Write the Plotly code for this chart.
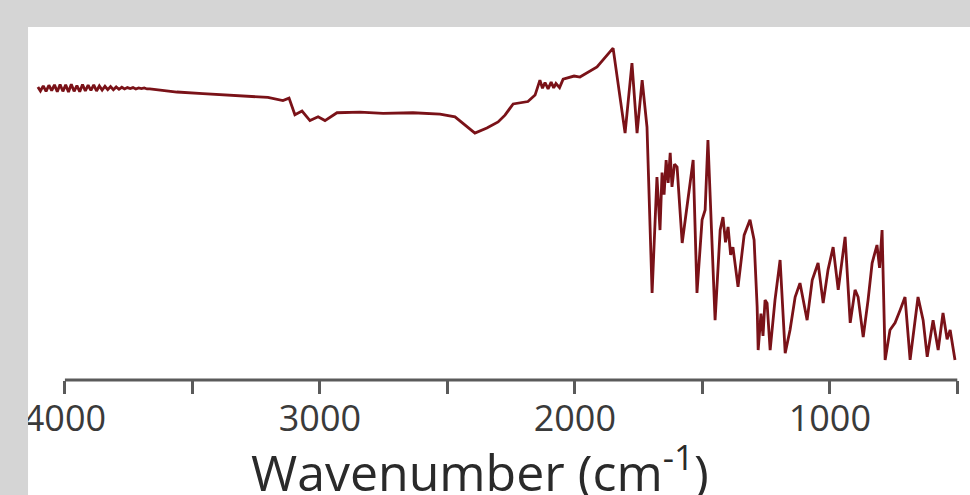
import plotly.graph_objects as go

# FTIR spectrum (wavenumber in cm-1, transmittance in arbitrary %)
wavenumber = [
    4106, 4096, 4085, 4074, 4063, 4052, 4041, 4030, 4019, 4008, 3997, 3986, 3975, 3964,
    3953, 3942, 3931, 3920, 3909, 3898, 3887, 3876, 3865, 3854, 3843, 3832, 3821, 3810,
    3799, 3788, 3777, 3766, 3755, 3744, 3733, 3722, 3711, 3700, 3689, 3678, 3667,
    3561, 3459, 3204, 3145, 3121, 3098, 3070, 3039, 3007, 2980, 2933, 2843, 2752, 2635,
    2529, 2470, 2392, 2345, 2301, 2274, 2242, 2184, 2156, 2137, 2127, 2117, 2105, 2093,
    2083, 2074, 2060, 2046, 2003, 1980, 1913, 1850, 1803, 1776, 1756, 1736, 1717, 1697,
    1678, 1672, 1666, 1658, 1650, 1642, 1634, 1626, 1619, 1609, 1599, 1579, 1556, 1536,
    1521, 1501, 1489, 1478, 1450, 1430, 1419, 1409, 1399, 1389, 1380, 1360, 1336, 1313,
    1297, 1285, 1281, 1270, 1262, 1254, 1246, 1234, 1215, 1195, 1175, 1156, 1136, 1117,
    1089, 1069, 1046, 1026, 1007, 987, 967, 940, 920, 901, 889, 869, 850, 834, 815, 805,
    795, 783, 764, 744, 724, 705, 685, 666, 654, 634, 618, 595, 575, 556, 540, 528, 509,
]
transmittance = [
    86.2, 85.0, 86.5, 84.9, 86.7, 85.1, 86.8, 84.8, 86.9, 84.9, 86.8, 84.7, 87.0, 84.9,
    86.6, 84.8, 86.9, 85.0, 86.7, 85.2, 86.8, 85.0, 86.5, 85.3, 86.4, 85.4, 86.3, 85.4,
    86.2, 85.5, 86.1, 85.6, 86.0, 85.7, 86.0, 85.6, 85.9, 85.7, 85.9, 85.6, 85.6,
    84.7, 84.2, 83.1, 82.2, 82.9, 78.0, 79.1, 76.3, 77.4, 76.3, 78.6, 78.8, 78.4, 78.6,
    78.2, 77.4, 72.6, 74.1, 75.9, 77.9, 81.2, 81.9, 83.8, 88.2, 85.8, 87.5, 85.6, 87.6,
    85.9, 87.2, 86.0, 88.5, 89.4, 89.1, 92.1, 97.6, 72.6, 93.2, 72.6, 88.2, 74.4, 25.6,
    59.7, 52.0, 44.1, 61.0, 54.5, 64.7, 58.0, 66.8, 56.8, 63.5, 62.6, 40.3, 52.9, 64.7,
    25.6, 47.1, 50.0, 70.6, 17.6, 44.1, 47.9, 40.5, 45.0, 36.8, 39.1, 27.4, 42.6, 47.1,
    41.2, 21.5, 8.8, 19.5, 13.0, 23.5, 22.6, 8.8, 23.5, 35.3, 7.9, 14.7, 24.4, 28.5,
    17.6, 29.4, 34.4, 22.6, 32.4, 39.1, 26.5, 42.1, 16.8, 26.5, 24.4, 12.6, 23.5, 34.4,
    39.7, 33.0, 44.1, 5.9, 14.7, 16.8, 20.6, 24.4, 5.9, 17.6, 24.4, 17.6, 6.8, 17.6,
    8.8, 19.7, 12.0, 14.7, 5.9,
]

tick_vals = [4000, 3500, 3000, 2500, 2000, 1500, 1000, 500]
tick_text = ["4000", "", "3000", "", "2000", "", "1000", ""]
x_title = "Wavenumber (cm<sup>-1</sup>)"

LINE_COLOR = "#7a1218"
AXIS_COLOR = "#5a5a5a"
FRAME_GRAY = "#d5d5d5"

fig = go.Figure()
fig.add_trace(go.Scatter(
    x=wavenumber, y=transmittance, mode="lines",
    line=dict(color=LINE_COLOR, width=2.8),
    hoverinfo="skip", showlegend=False,
))

fig.update_layout(
    width=970, height=495,
    margin=dict(l=30, r=2, t=40, b=115),
    paper_bgcolor="white", plot_bgcolor="white",
    showlegend=False,
    xaxis=dict(
        range=[4137, 458], autorange=False,
        tickmode="array", tickvals=tick_vals, ticktext=tick_text,
        ticks="outside", ticklen=13, tickwidth=3, tickcolor=AXIS_COLOR,
        ticklabelstandoff=-6,
        showline=False, showgrid=False, zeroline=False,
        tickfont=dict(family="Open Sans", size=36, color="#3a3a3a"),
        automargin=False,
    ),
    yaxis=dict(range=[0, 100], visible=False, showgrid=False, zeroline=False),
    annotations=[dict(
        text=x_title, xref="paper", yref="paper", x=0.48, y=-0.262,
        xanchor="center", yanchor="middle", showarrow=False,
        font=dict(family="Open Sans", size=50, color="#2a2a2a"),
    )],
    shapes=[
        # axis line spanning the labelled tick range
        dict(type="line", xref="x", yref="paper",
             x0=max(tick_vals), x1=min(tick_vals), y0=0, y1=0,
             line=dict(color=AXIS_COLOR, width=3), layer="above"),
        # gray photo frame (top and left strips)
        dict(type="rect", xref="paper", yref="paper", x0=-0.05, x1=1.05, y0=1.038, y1=1.2,
             fillcolor=FRAME_GRAY, line=dict(width=0), layer="above"),
        dict(type="rect", xref="paper", yref="paper", x0=-0.05, x1=-0.0021, y0=-0.4, y1=1.2,
             fillcolor=FRAME_GRAY, line=dict(width=0), layer="above"),
    ],
)

fig.write_html(
    "out.html",
    config={"displayModeBar": False},
    post_script="document.body.style.margin='0px';document.body.style.overflow='hidden';",
)
